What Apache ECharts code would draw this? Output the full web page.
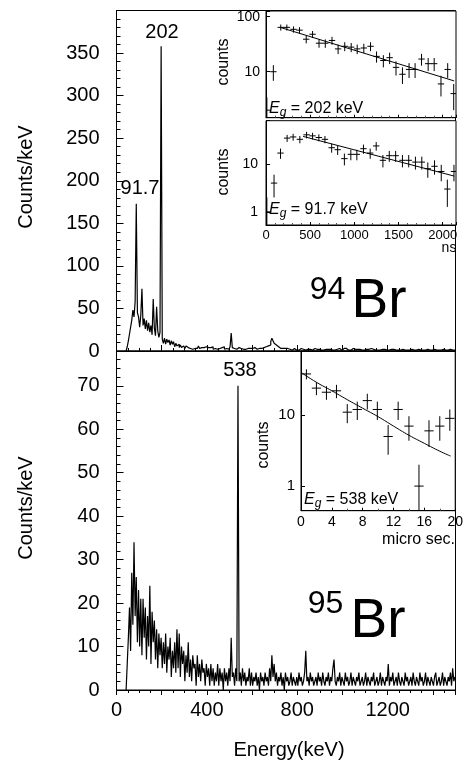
<!DOCTYPE html>
<html><head><meta charset="utf-8">
<script src="https://cdn.jsdelivr.net/npm/echarts@6/dist/echarts.min.js"></script>
<style>html,body{margin:0;padding:0;background:#fff}#c{width:466px;height:762px}</style>
</head><body><div id="c"></div>
<script>
// ---------- DATA ----------
const BIN_KEV = 5; // histogram bin width (keV); bin i is centred at i*BIN_KEV
// 94Br delayed gamma spectrum, counts/keV, bins 0..1500 keV
const br94Counts = [
 null,null,null,null,null,null,null,null,null,0,5,12,20,28,36,48,40,58,173,45,
 40,28,42,73,30,38,26,36,24,33,22,30,19,61,27,18,52,24,16,22,
 358,14,9,15,8,14,10,13,7,12,8,11,5,9,6,8,4,7,4,6,
 5,3,6,4,5,3,5,2,4,3,5,3,4,6,3,4,2,4,3,5,
 3,4,2,4,3,5,2,3,4,2,4,3,2,4,3,5,2,3,4,2,
 4,5,21,4,3,4,2,3,4,2,3,4,2,3,2,4,3,2,3,2,
 3,2,4,3,2,4,3,4,3,5,4,3,5,4,6,5,7,11,15,12,
 9,7,6,5,4,3,4,3,2,3,2,3,2,2,3,1,2,3,2,1,
 2,1,2,3,1,2,2,1,3,2,1,2,2,1,2,3,1,2,1,2,
 2,1,2,1,3,2,1,2,1,2,3,1,2,1,2,2,1,3,2,1,
 2,3,4,3,2,1,2,1,2,3,1,2,1,2,1,2,3,1,2,1,
 1,2,1,2,1,3,1,2,1,1,2,1,2,1,1,2,1,2,1,1,
 2,1,1,2,1,2,1,1,2,1,2,1,1,2,1,1,2,1,2,1,
 1,2,1,1,2,1,1,2,1,1,2,1,2,1,1,2,1,1,2,1,
 1,2,1,1,2,1,2,1,1,2,1,1,2,1,1,2,1,1,2,1,
 1
];
// 95Br delayed gamma spectrum, counts/keV
const br95Counts = [
 null,null,null,null,null,null,null,null,null,0,6,12,19,9,27,15,34,17,26,11,
 23,10,21,8,21,12,19,7,17,10,24,6,18,11,16,7,14,5,13,8,
 12,5,11,6,13,4,10,7,12,3,9,5,11,4,14,5,13,3,10,6,
 9,2,8,4,11,3,7,2,8,5,6,1,8,3,6,2,7,4,5,1,
 6,3,5,1,6,2,5,1,4,2,6,1,5,2,4,0,5,2,4,1,
 5,2,12,3,4,1,5,2,70,2,4,1,5,2,4,1,3,2,5,1,
 4,1,3,2,4,1,3,0,4,2,3,1,4,2,3,1,5,2,8,3,
 6,2,4,1,3,2,4,1,3,0,4,2,3,1,2,4,1,3,2,1,
 3,1,4,2,3,1,2,4,9,2,3,1,4,2,3,1,2,3,1,4,
 2,3,1,4,2,1,3,2,4,1,3,2,5,7,2,1,3,2,4,1,
 3,2,1,4,2,3,1,2,4,1,3,2,1,3,2,4,1,2,3,1,
 2,4,1,3,2,1,3,2,4,1,2,3,1,2,4,1,3,2,1,3,
 2,6,1,3,2,4,1,2,3,1,4,2,1,3,2,1,4,2,3,1,
 2,3,1,4,2,1,3,2,1,4,2,3,1,2,4,1,3,2,1,3,
 2,1,3,4,1,2,3,1,2,4,1,3,2,1,3,2,4,1,5,2,
 3
];
const energyTickLabels = [0, 400, 800, 1200];

// Time spectra (insets)
const eg202Time   = [10,83,167,236,311,379,455,527,600,671,747,816,891,964,1032,1107,1183,1251,1328,1399,1471,1544,1619,1687,1760,1835,1903,1980,2056,2124];
const eg202Counts = [2,10,64,64,59,57,39,48,33,33,37,26,29,28,26,27,29,19,16,18,12,9,11,11,17,14,14,6,11,4];
const eg202FitTime = [160, 2130];
const eg202FitCounts = [64, 6.8];

const eg917Time   = [10,91,164,239,307,383,459,527,598,667,743,811,887,960,1028,1103,1179,1247,1323,1395,1467,1544,1615,1691,1763,1831,1907,1983,2052,2127];
const eg917Counts = [1,4,17,35,37,33,41,39,36,33,22,20,13,16,16,21,17,24,12,15,15,12,12,11,11,8,9,7,3,7];
const eg917FitTime = [420, 2130];
const eg917FitCounts = [38, 5.6];

const eg538Time   = [0.7,2.0,3.3,4.6,6.0,7.3,8.6,9.9,11.3,12.6,14.0,15.3,16.6,18.0,19.3];
const eg538Counts = [38,24,21,22,11,12,16,12,5,12,7,1,6,7,9];
const eg538FitTime   = [0,2,4,6,8,10,12,14,16,18,19.4];
const eg538FitCounts = [40,29,22,16.5,12.5,9.5,7.0,5.2,4.0,3.1,2.65];

// ---------- CHART ----------
const FONT = '"Liberation Sans", Arial, Helvetica, sans-serif';
const K = '#000';
const chart = echarts.init(document.getElementById('c'), null, {renderer:'canvas', width:466, height:762});

const spectrum = counts => counts.map((v, i) => [i * BIN_KEV, v]);
const pairs = (xs, ys) => xs.map((x, i) => [x, ys[i]]);
const decade = v => { const l = Math.log10(v); return Math.abs(l - Math.round(l)) < 1e-6 ? String(Math.round(v)) : ''; };

function errorBars(xi, yi, times, counts, halfWidth, floor) {
  return {
    type: 'custom', xAxisIndex: xi, yAxisIndex: yi, clip: true, z: 5,
    data: pairs(times, counts),
    renderItem(params, api) {
      const x = api.value(0), y = api.value(1), e = Math.sqrt(y);
      const c = api.coord([x, y]);
      const top = api.coord([x, y + e]);
      const bot = api.coord([x, Math.max(y - e, floor)]);
      const l = api.coord([x - halfWidth, y]), r = api.coord([x + halfWidth, y]);
      return { type: 'group', children: [
        { type: 'line', shape: { x1: c[0], y1: top[1], x2: c[0], y2: bot[1] }, style: { stroke: K, lineWidth: 1 } },
        { type: 'line', shape: { x1: l[0], y1: c[1], x2: r[0], y2: c[1] }, style: { stroke: K, lineWidth: 1 } }
      ]};
    }
  };
}
function fitLine(xi, yi, xs, ys, smooth) {
  return { type: 'line', xAxisIndex: xi, yAxisIndex: yi, data: pairs(xs, ys), showSymbol: false, smooth: !!smooth,
           lineStyle: { color: K, width: 1 }, z: 4, silent: true };
}
function txt(x, y, text, size, opts) {
  return Object.assign({ type: 'text', x, y, z: 100, silent: true,
    style: Object.assign({ text, fontSize: size, fontFamily: FONT, fill: K, align: 'center', verticalAlign: 'middle' }, (opts && opts.style) || {}) },
    opts && opts.rotation != null ? { rotation: opts.rotation } : {});
}
function eg(x, y, value) {
  return { type: 'text', x, y, z: 100, silent: true, style: {
    text: '{e|E}{g|g}{t| = ' + value + ' keV}', fontFamily: FONT, fill: K, align: 'left', verticalAlign: 'middle',
    rich: { e: { fontStyle: 'italic', fontSize: 16, fontFamily: FONT, fill: K },
            g: { fontStyle: 'italic', fontSize: 12, fontFamily: FONT, fill: K, padding: [7, 0, 0, 0] },
            t: { fontSize: 16, fontFamily: FONT, fill: K } } } };
}
const axLine = { show: true, lineStyle: { color: K, width: 1 } };
const gridBox = { show: true, borderColor: K, borderWidth: 1, backgroundColor: '#fff' };

const option = {
  animation: false,
  backgroundColor: '#fff',
  grid: [
    Object.assign({ left: 116.5, top: 10.5, width: 339, height: 340.5 }, gridBox),
    Object.assign({ left: 116.5, top: 351, width: 339, height: 339 }, gridBox),
    Object.assign({ left: 266, top: 11, width: 190, height: 106.7 }, gridBox),
    Object.assign({ left: 266, top: 120.7, width: 190, height: 104.3 }, gridBox),
    Object.assign({ left: 301, top: 351, width: 154.5, height: 159.7 }, gridBox)
  ],
  xAxis: [
    { gridIndex: 0, type: 'value', min: 0, max: 1500, interval: 200, axisLine: axLine,
      axisTick: { inside: true, length: 6, lineStyle: { color: K } },
      minorTick: { show: true, splitNumber: 4, length: 3, lineStyle: { color: K } },
      axisLabel: { show: false }, splitLine: { show: false } },
    { gridIndex: 1, type: 'value', min: 0, max: 1500, interval: 200, axisLine: axLine,
      axisTick: { inside: false, length: 5, lineStyle: { color: K } },
      minorTick: { show: true, splitNumber: 4, length: 3, lineStyle: { color: K } },
      axisLabel: { fontSize: 20, fontFamily: FONT, color: K, margin: 10,
                   formatter: v => energyTickLabels.includes(v) ? String(v) : '' },
      splitLine: { show: false } },
    { gridIndex: 2, type: 'value', min: 0, max: 2150, interval: 500, axisLine: axLine,
      axisTick: { inside: true, length: 3, lineStyle: { color: K } },
      minorTick: { show: true, splitNumber: 5, length: 2, lineStyle: { color: '#555' } },
      axisLabel: { show: false }, splitLine: { show: false } },
    { gridIndex: 3, type: 'value', min: 0, max: 2150, interval: 500, axisLine: axLine,
      axisTick: { inside: true, length: 3, lineStyle: { color: K } },
      minorTick: { show: true, splitNumber: 5, length: 2, lineStyle: { color: '#555' } },
      axisLabel: { fontSize: 13, fontFamily: FONT, color: K, margin: 4,
                   formatter: v => v % 500 === 0 ? String(v) : '' },
      splitLine: { show: false } },
    { gridIndex: 4, type: 'value', min: 0, max: 20, interval: 4, axisLine: axLine,
      axisTick: { inside: true, length: 3, lineStyle: { color: K } },
      minorTick: { show: true, splitNumber: 2, length: 2, lineStyle: { color: '#555' } },
      axisLabel: { fontSize: 14, fontFamily: FONT, color: K, margin: 4 },
      splitLine: { show: false } }
  ],
  yAxis: [
    { gridIndex: 0, type: 'value', min: 0, max: 400, interval: 50, axisLine: axLine,
      axisTick: { inside: true, length: 7, lineStyle: { color: K } },
      minorTick: { show: true, splitNumber: 5, length: 4, lineStyle: { color: K } },
      axisLabel: { fontSize: 20, fontFamily: FONT, color: K, margin: 17, showMaxLabel: false },
      splitLine: { show: false } },
    { gridIndex: 1, type: 'value', min: 0, max: 78, interval: 10, axisLine: axLine,
      axisTick: { inside: true, length: 7, lineStyle: { color: K } },
      minorTick: { show: true, splitNumber: 5, length: 4, lineStyle: { color: K } },
      axisLabel: { fontSize: 20, fontFamily: FONT, color: K, margin: 17, showMaxLabel: false },
      splitLine: { show: false } },
    { gridIndex: 2, type: 'log', min: 1.46, max: 127, axisLine: axLine,
      axisTick: { inside: true, length: 4, lineStyle: { color: K } },
      axisLabel: { fontSize: 14, fontFamily: FONT, color: K, margin: 6, formatter: decade },
      splitLine: { show: false } },
    { gridIndex: 3, type: 'log', min: 0.53, max: 81, axisLine: axLine,
      axisTick: { inside: true, length: 4, lineStyle: { color: K } },
      axisLabel: { fontSize: 14, fontFamily: FONT, color: K, margin: 8, formatter: decade },
      splitLine: { show: false } },
    { gridIndex: 4, type: 'log', min: 0.45, max: 80, axisLine: axLine,
      axisTick: { inside: true, length: 4, lineStyle: { color: K } },
      axisLabel: { fontSize: 15, fontFamily: FONT, color: K, margin: 6, formatter: decade },
      splitLine: { show: false } }
  ],
  series: [
    { type: 'line', xAxisIndex: 0, yAxisIndex: 0, data: spectrum(br94Counts), step: 'middle', showSymbol: false,
      lineStyle: { color: K, width: 1.2 }, silent: true },
    { type: 'line', xAxisIndex: 1, yAxisIndex: 1, data: spectrum(br95Counts), step: 'middle', showSymbol: false,
      lineStyle: { color: K, width: 1.2 }, silent: true },
    errorBars(2, 2, eg202Time, eg202Counts, 36, 0.5),
    fitLine(2, 2, eg202FitTime, eg202FitCounts),
    errorBars(3, 3, eg917Time, eg917Counts, 36, 0.2),
    fitLine(3, 3, eg917FitTime, eg917FitCounts),
    errorBars(4, 4, eg538Time, eg538Counts, 0.6, 0.2),
    fitLine(4, 4, eg538FitTime, eg538FitCounts, true)
  ],
  graphic: [
    txt(26, 177, 'Counts/keV', 20, { rotation: Math.PI / 2 }),
    txt(26, 508, 'Counts/keV', 20, { rotation: Math.PI / 2 }),
    txt(289, 750, 'Energy(keV)', 20),
    txt(162, 32, '202', 20),
    txt(140, 188, '91.7', 20),
    txt(240, 370, '538', 20),
    txt(327.5, 290, '94', 32),
    txt(379, 302, 'Br', 55),
    txt(325.5, 604, '95', 32),
    txt(378, 622, 'Br', 55),
    txt(224, 62, 'counts', 16, { rotation: Math.PI / 2 }),
    txt(224, 172, 'counts', 16, { rotation: Math.PI / 2 }),
    txt(264, 445, 'counts', 16, { rotation: Math.PI / 2 }),
    eg(269, 109, '202'),
    eg(269, 210, '91.7'),
    eg(304, 500, '538'),
    txt(449, 248, 'ns', 14),
    txt(455, 540, 'micro sec.', 16, { style: { align: 'right' } })
  ]
};
chart.setOption(option);
</script></body></html>
